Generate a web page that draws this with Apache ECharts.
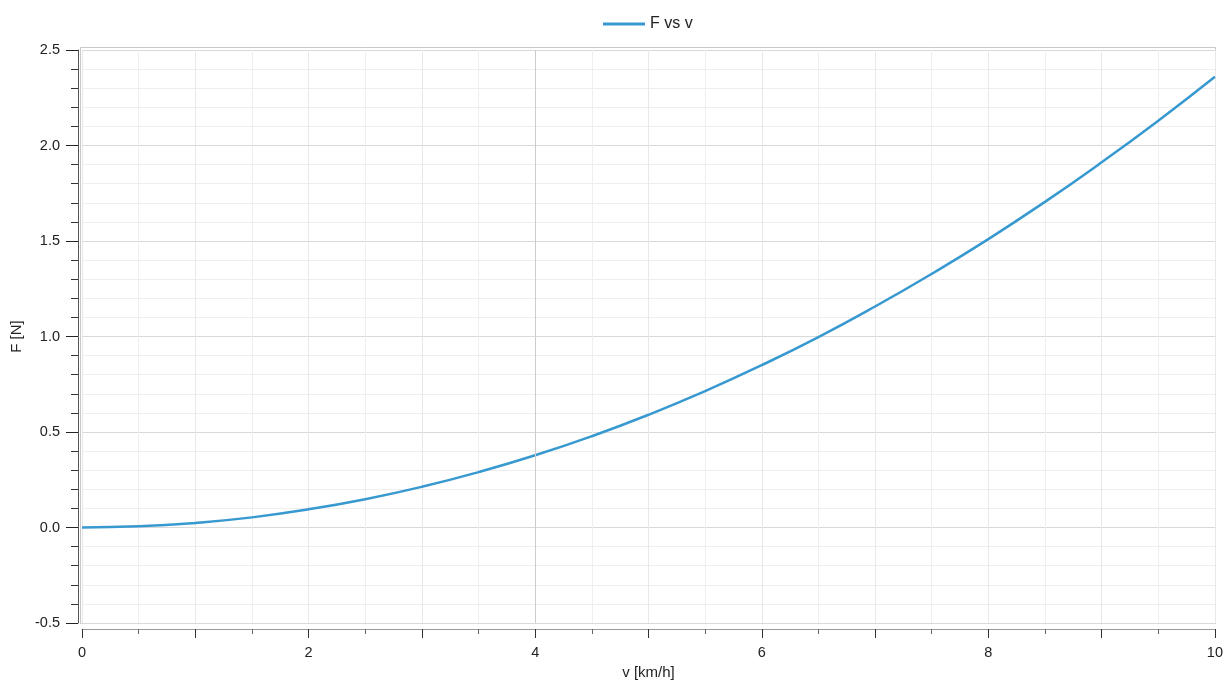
<!DOCTYPE html>
<html>
<head>
<meta charset="utf-8">
<script src="https://cdn.jsdelivr.net/npm/echarts@6/dist/echarts.min.js"></script>
<style>html,body{margin:0;padding:0;background:#fff}#c{width:1226px;height:688px}</style>
</head>
<body>
<div id="c"></div>
<script>
// Data
var velocities = [0, 0.5, 1, 1.5, 2, 2.5, 3, 3.5, 4, 4.5, 5, 5.5, 6, 6.5, 7, 7.5, 8, 8.5, 9, 9.5, 10];
var forces = [0, 0.006, 0.024, 0.053, 0.095, 0.148, 0.213, 0.29, 0.378, 0.478, 0.59, 0.714, 0.85, 0.997, 1.157, 1.328, 1.51, 1.705, 1.912, 2.13, 2.36];
var seriesName = 'F vs v';
var xName = 'v [km/h]';
var yName = 'F [N]';
var cursorV = 4;

var points = velocities.map(function (v, i) { return [v, forces[i]]; });
var font = 'Liberation Sans, Arial, sans-serif';
var chart = echarts.init(document.getElementById('c'), null, {renderer: 'canvas'});
chart.setOption({
  animation: false,
  textStyle: {fontFamily: font},
  legend: {
    left: 598, top: 11,
    itemWidth: 42, itemHeight: 12, itemGap: 8,
    textStyle: {fontSize: 16, color: '#222', fontFamily: font},
    data: [{name: seriesName, icon: 'path://M0,0 L42,0 L42,3 L0,3 Z'}]
  },
  grid: {left: 82, right: 11, top: 50, bottom: 65, containLabel: false},
  graphic: [{
    type: 'rect', silent: true, z: 0,
    shape: {x: 80.5, y: 47.5, width: 1135, height: 576},
    style: {fill: 'none', stroke: '#c8c8c8', lineWidth: 1}
  }],
  xAxis: {
    type: 'value', min: 0, max: 10, interval: 1,
    offset: 6,
    name: xName, nameLocation: 'middle', nameGap: 36,
    nameTextStyle: {fontSize: 15, color: '#222', fontFamily: font},
    axisLine: {show: true, onZero: false, lineStyle: {color: '#999', width: 1}},
    axisTick: {show: true, length: 9, lineStyle: {color: '#333'}},
    minorTick: {show: true, splitNumber: 2, length: 5, lineStyle: {color: '#666'}},
    axisLabel: {
      margin: 16, fontSize: 14.5, color: '#222', fontFamily: font,
      formatter: function (v) { return (Math.round(v) % 2 === 0) ? String(v) : ''; }
    },
    splitLine: {show: true, lineStyle: {color: '#e8e8e8', width: 1}},
    minorSplitLine: {show: true, lineStyle: {color: '#efefef', width: 1}}
  },
  yAxis: {
    type: 'value', min: -0.5, max: 2.5, interval: 0.5,
    offset: 4,
    name: yName, nameLocation: 'middle', nameGap: 54, nameRotate: 90,
    nameTextStyle: {fontSize: 15, color: '#222', fontFamily: font},
    axisLine: {show: true, onZero: false, lineStyle: {color: '#555', width: 1}},
    axisTick: {show: true, length: 12, lineStyle: {color: '#222'}},
    minorTick: {show: true, splitNumber: 5, length: 7, lineStyle: {color: '#333'}},
    axisLabel: {
      margin: 18, fontSize: 14.5, color: '#222', fontFamily: font,
      formatter: function (v) { return v.toFixed(1); }
    },
    splitLine: {show: true, lineStyle: {color: '#d9d9d9', width: 1}},
    minorSplitLine: {show: true, lineStyle: {color: '#eeeeee', width: 1}}
  },
  series: [{
    name: seriesName,
    type: 'line',
    data: points,
    smooth: true,
    showSymbol: false,
    symbol: 'none',
    lineStyle: {color: '#3799d0', width: 2.5},
    itemStyle: {color: '#3799d0'},
    markLine: {
      silent: true, symbol: 'none', animation: false,
      label: {show: false},
      lineStyle: {color: '#cccccc', width: 1, type: 'solid'},
      data: [{xAxis: cursorV}]
    },
    z: 3
  }]
});
</script>
</body>
</html>
